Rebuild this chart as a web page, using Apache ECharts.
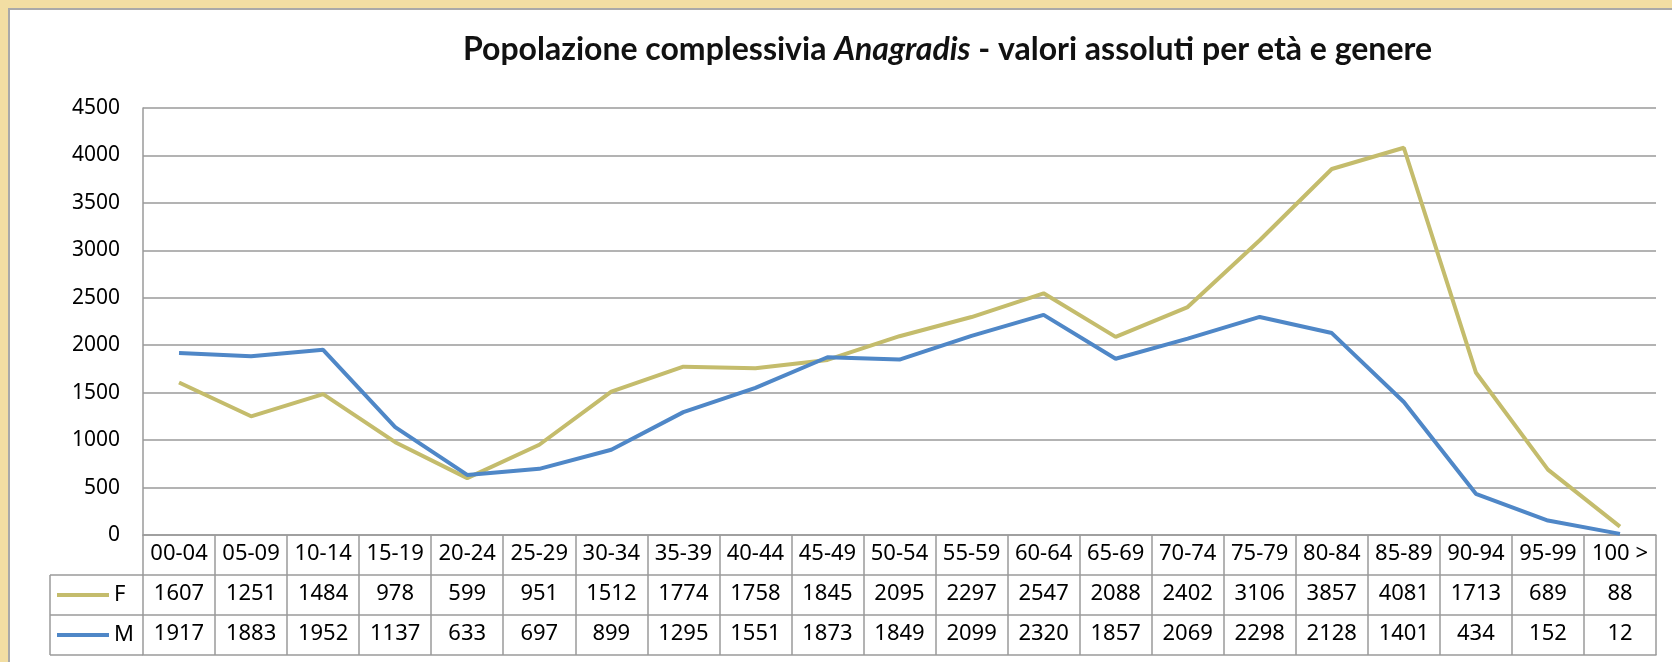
<!DOCTYPE html>
<html>
<head>
<meta charset="utf-8">
<script src="https://cdn.jsdelivr.net/npm/echarts@6/dist/echarts.min.js"></script>
<style>
  html, body { margin: 0; padding: 0; }
  body { width: 1672px; height: 662px; background: #f2dea3; position: relative; overflow: hidden; }
  #card { position: absolute; left: 8px; top: 8px; right: 0; bottom: 0; background: #fff;
          border-top: 2px solid #a9a9a9; border-left: 2px solid #a9a9a9; }
  #main { position: absolute; left: 0; top: 0; width: 1672px; height: 662px; }
</style>
</head>
<body>
<div id="card"></div>
<div id="main"></div>
<script>
  // fasce d'età
  var categories = ['00-04', '05-09', '10-14', '15-19', '20-24', '25-29', '30-34', '35-39', '40-44', '45-49',
    '50-54', '55-59', '60-64', '65-69', '70-74', '75-79', '80-84', '85-89', '90-94', '95-99', '100 >']
  var femmine = [1607, 1251, 1484, 978, 599, 951, 1512, 1774, 1758, 1845, 2095, 2297, 2547, 2088, 2402, 3106, 3857, 4081, 1713, 689, 88]
  var maschi = [1917, 1883, 1952, 1137, 633, 697, 899, 1295, 1551, 1873, 1849, 2099, 2320, 1857, 2069, 2298, 2128, 1401, 434, 152, 12]
  var yTicks = { min: 0, max: 4500, interval: 500 }

  var gridColor = '#9a9a9a'
  var txtFont = 'Noto Sans'
  var fColor = '#c4bc6c'
  var mColor = '#4f87c7'

  var dom = echarts.init(document.getElementById('main'))

  // riga di tabella sotto il grafico (asse categorico con offset)
  function tableAxis(data, offset, showLabel) {
    return {
      type: 'category',
      position: 'bottom',
      offset: offset,
      data: data,
      boundaryGap: true,
      axisLine: { show: true, lineStyle: { color: gridColor, width: 1.5 } },
      axisTick: { show: showLabel, length: 40, interval: 0, lineStyle: { color: gridColor, width: 1.5 } },
      axisLabel: {
        show: showLabel,
        interval: 0,
        margin: 8,
        fontFamily: txtFont,
        fontSize: 22,
        color: '#000'
      },
      splitLine: { show: false }
    }
  }

  var option = {
    animation: false,
    title: {
      text: 'Popolazione complessivia {i|Anagradis} - valori assoluti per età e genere',
      left: 458,
      top: 29,
      textStyle: {
        fontFamily: 'Lato',
        fontSize: 32,
        fontWeight: 'bold',
        color: '#111',
        rich: {
          i: { fontFamily: 'Lato', fontSize: 32, fontWeight: 'bold', fontStyle: 'italic', color: '#111' }
        }
      }
    },
    legend: {
      orient: 'vertical',
      left: 57,
      top: 584,
      padding: 0,
      itemGap: 18,
      itemWidth: 52,
      itemHeight: 4,
      icon: 'rect',
      textStyle: { fontFamily: txtFont, fontSize: 22, color: '#000', lineHeight: 22 },
      data: ['F', 'M']
    },
    grid: {
      left: 143,
      right: 16,
      top: 108,
      bottom: 127,
      containLabel: false
    },
    xAxis: [
      tableAxis(categories, 0, true),
      tableAxis(femmine.map(String), 40, true),
      tableAxis(maschi.map(String), 80, true),
      tableAxis(categories, 120, false)
    ],
    yAxis: {
      type: 'value',
      min: yTicks.min,
      max: yTicks.max,
      interval: yTicks.interval,
      axisLine: { show: true, lineStyle: { color: gridColor, width: 1.5 } },
      axisTick: { show: false },
      axisLabel: {
        margin: 23,
        fontFamily: txtFont,
        fontSize: 21,
        color: '#000',
        formatter: function (v) { return String(v) }
      },
      splitLine: { lineStyle: { color: gridColor, width: 1.5 } }
    },
    graphic: [
      // bordi della colonna legenda
      { type: 'line', shape: { x1: 50, y1: 575, x2: 143, y2: 575 }, style: { stroke: gridColor, lineWidth: 1.5 } },
      { type: 'line', shape: { x1: 50, y1: 615, x2: 143, y2: 615 }, style: { stroke: gridColor, lineWidth: 1.5 } },
      { type: 'line', shape: { x1: 50, y1: 655, x2: 143, y2: 655 }, style: { stroke: gridColor, lineWidth: 1.5 } },
      { type: 'line', shape: { x1: 50, y1: 575, x2: 50, y2: 655 }, style: { stroke: gridColor, lineWidth: 1.5 } }
    ],
    series: [
      {
        name: 'F',
        type: 'line',
        xAxisIndex: 0,
        data: femmine,
        symbol: 'none',
        color: fColor,
        lineStyle: { width: 4, color: fColor }
      },
      {
        name: 'M',
        type: 'line',
        xAxisIndex: 0,
        data: maschi,
        symbol: 'none',
        color: mColor,
        lineStyle: { width: 4, color: mColor }
      }
    ]
  }
  dom.setOption(option)
</script>
</body>
</html>
